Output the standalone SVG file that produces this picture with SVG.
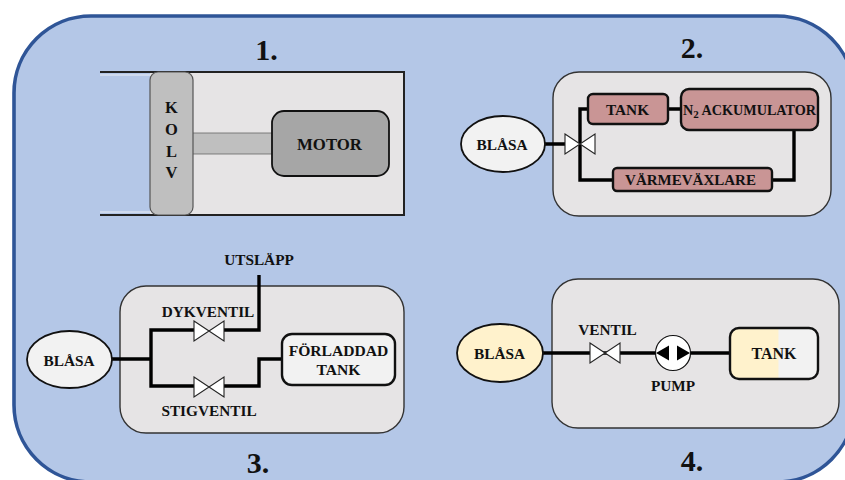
<svg xmlns="http://www.w3.org/2000/svg" width="845" height="480" viewBox="0 0 845 480">
<style>
text{font-family:"Liberation Serif",serif;font-weight:bold;fill:#111;text-anchor:middle}
.t{font-size:15.300px}
.b{font-size:16.500px}
.h{font-size:30px}
.panel{fill:#e6e4e5;stroke:#333;stroke-width:1.4}
.el{stroke:#111;stroke-width:1.8}
.box{stroke:#111;stroke-width:2.4}
.pipe{fill:none;stroke:#000;stroke-width:3.4}
.valve{fill:#fff;stroke:#222;stroke-width:1.1}
</style>
<defs>
<linearGradient id="half" x1="0" x2="1" y1="0" y2="0"><stop offset="0.54" stop-color="#fff2cc"/><stop offset="0.56" stop-color="#f2f2f2"/></linearGradient>
<path id="v" d="M-15-10L15 10V-10L-15 10Z"/>
</defs>
<rect id="background" x="14" y="16" width="840" height="466" rx="77" fill="#b4c7e7" stroke="#2f5597" stroke-width="3.6"/>
<text class="h" x="266.500" y="60">1.</text>
<text class="h" x="692" y="58">2.</text>
<text class="h" x="258" y="473">3.</text>
<text class="h" x="692" y="471">4.</text>
<g id="panel1">
<path d="M150 72H404V215H150Z" fill="#e6e4e5"/>
<path d="M100 75H152M100 212H152" stroke="#e9edf5" stroke-width="1.2" fill="none"/>
<path d="M100 72H404V215H100" fill="none" stroke="#222" stroke-width="2"/>
</g>
<g id="rod"><rect x="192" y="133" width="81" height="21" fill="#bfbfbf" stroke="#666" stroke-width="0.8"/></g>
<g id="kolv"><rect x="150" y="72" width="43" height="143" rx="8" fill="#bfbfbf" stroke="#555" stroke-width="1.2"/>
<text class="b" x="171.500" y="113">K</text><text class="b" x="171.500" y="135">O</text><text class="b" x="171.500" y="157">L</text><text class="b" x="171.500" y="178">V</text></g>
<g id="motor"><rect x="272" y="111" width="117" height="65" rx="12" fill="#a6a6a6" stroke="#111" stroke-width="1.8"/><text class="b" x="329.500" y="150" style="font-size:16.800px">MOTOR</text></g>
<rect id="panel2" class="panel" x="553" y="72" width="278" height="144" rx="26"/>
<rect id="panel3" class="panel" x="120" y="286" width="284" height="147" rx="26"/>
<rect id="panel4" class="panel" x="552" y="279" width="287" height="149" rx="26"/>
<g id="connectors">
<path class="pipe" d="M545 144H566M590 109H580V180H613M668 109H681M794 130V180H772"/>
<path class="pipe" d="M111 359H151M194 330H151V386H194M224 330H259V275M224 386H259V359H282"/>
<path class="pipe" d="M543 353H730"/>
</g>
<g id="v2"><use href="#v" class="valve" transform="translate(580 144)"/></g>
<g id="dykventil"><use href="#v" class="valve" transform="translate(209 331)"/><text class="t" x="208" y="317">DYKVENTIL</text></g>
<g id="stigventil"><use href="#v" class="valve" transform="translate(209 387)"/><text class="t" x="209" y="416">STIGVENTIL</text></g>
<g id="ventil"><use href="#v" class="valve" transform="translate(605 353)"/><text class="t" x="607.500" y="335">VENTIL</text></g>
<g id="blasa2"><ellipse class="el" cx="503" cy="144" rx="42" ry="28" fill="#f2f2f2"/><text class="t" x="502" y="150">BLÅSA</text></g>
<g id="tank2"><rect class="box" x="588" y="94" width="80" height="30" rx="5" fill="#c99595"/><text class="t" x="627.500" y="115">TANK</text></g>
<g id="ackumulator"><rect class="box" x="681" y="89" width="137" height="41" rx="8" fill="#c99595"/><text x="749.500" y="115" style="font-size:14.200px">N<tspan font-size="11" dy="3">2</tspan><tspan dy="-3"> ACKUMULATOR</tspan></text></g>
<g id="varmevaxlare"><rect class="box" x="613" y="168" width="159" height="23" rx="4" fill="#c99595"/><text x="690.500" y="185" style="font-size:15px">VÄRMEVÄXLARE</text></g>
<g id="utslapp"><text class="t" x="259" y="265">UTSLÄPP</text></g>
<g id="blasa3"><ellipse class="el" cx="69.500" cy="359.500" rx="42.500" ry="28.500" fill="#f2f2f2"/><text class="t" x="69" y="366">BLÅSA</text></g>
<g id="forladdad"><rect class="box" x="282" y="334" width="113" height="51" rx="10" fill="#f2f2f2"/><text x="338.500" y="356" style="font-size:15.600px">FÖRLADDAD</text><text x="338.500" y="375" style="font-size:15.600px">TANK</text></g>
<g id="blasa4"><ellipse class="el" cx="500" cy="353" rx="43" ry="29" fill="#fff2cc"/><text class="t" x="499.500" y="359">BLÅSA</text></g>
<g id="pump"><circle cx="673" cy="353" r="17.500" fill="#fff" stroke="#111" stroke-width="1.2"/><path d="M656 353L669 345.500V360.500ZM690 353L677 345.500V360.500Z" fill="#000"/><text class="t" x="673" y="391">PUMP</text></g>
<g id="tank4"><rect class="box" x="730" y="328" width="88" height="51" rx="9" fill="url(#half)"/><text x="774" y="359" style="font-size:16px">TANK</text></g>
</svg>
